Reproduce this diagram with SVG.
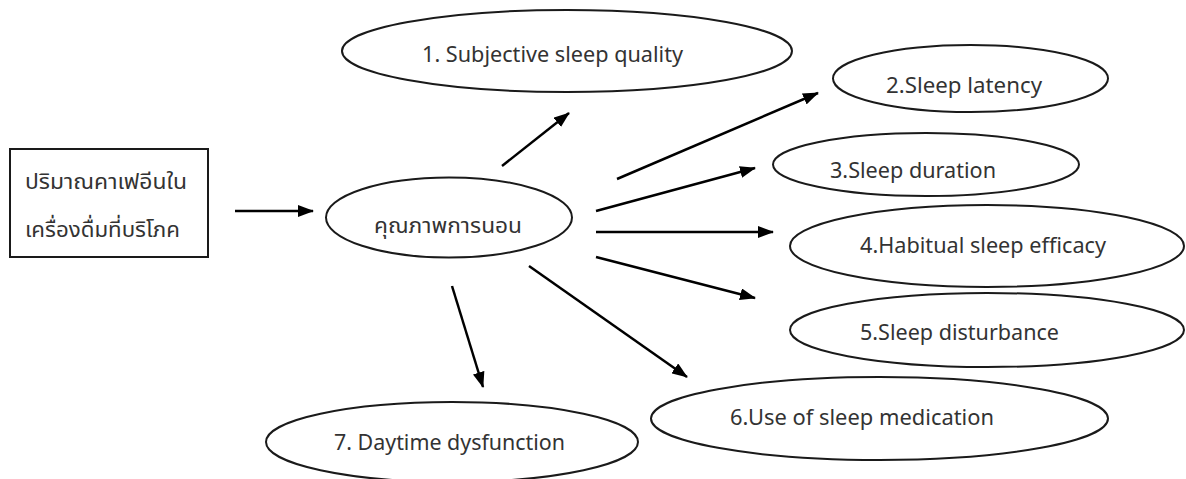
<svg xmlns="http://www.w3.org/2000/svg" width="1186" height="479" viewBox="0 0 1186 479">
<style>
.n{fill:#fff;stroke:#1a1a1a;stroke-width:2}
.t{font-family:"Noto Sans","DejaVu Sans",sans-serif;font-size:22px;fill:#333}
.th{font-family:"Noto Sans Thai","Noto Sans","DejaVu Sans",sans-serif;font-size:22px;fill:#333}
.c{stroke:#000;stroke-width:2.5;fill:none;marker-end:url(#ah)}
</style>
<defs>
<marker id="ah" markerUnits="userSpaceOnUse" markerWidth="16" markerHeight="12" refX="15" refY="6" orient="auto">
<path d="M0,0 L16,6 L0,12 z" fill="#000"/>
</marker>
</defs>
<rect width="1186" height="479" fill="#fff"/>
<g id="connectors">
<line class="c" x1="235" y1="211" x2="313" y2="211"/>
<line class="c" x1="502" y1="166" x2="569" y2="113"/>
<line class="c" x1="617" y1="179" x2="818" y2="93"/>
<line class="c" x1="596" y1="211" x2="755" y2="168"/>
<line class="c" x1="596" y1="232" x2="773" y2="232"/>
<line class="c" x1="596" y1="257" x2="755" y2="298"/>
<line class="c" x1="529" y1="266" x2="687" y2="377"/>
<line class="c" x1="452" y1="286" x2="483" y2="387"/>
</g>
<g id="caffeine">
<rect class="n" x="10" y="149" width="198" height="108"/>
<text class="th" x="25" y="189" textLength="162" lengthAdjust="spacingAndGlyphs">ปริมาณคาเฟอีนใน</text>
<text class="th" x="25" y="237" textLength="155" lengthAdjust="spacingAndGlyphs">เครื่องดื่มที่บริโภค</text>
</g>
<g id="sleep-quality">
<ellipse class="n" cx="449" cy="217.5" rx="123" ry="40"/>
<text class="th" x="448" y="233" text-anchor="middle" textLength="148" lengthAdjust="spacingAndGlyphs">คุณภาพการนอน</text>
</g>
<g id="n1">
<ellipse class="n" cx="567" cy="51" rx="225" ry="41"/>
<text class="t" x="552.5" y="62" text-anchor="middle" textLength="261" lengthAdjust="spacingAndGlyphs">1. Subjective sleep quality</text>
</g>
<g id="n2">
<ellipse class="n" cx="970.5" cy="78.5" rx="137.5" ry="33.5"/>
<text class="t" x="964" y="93" text-anchor="middle" textLength="156" lengthAdjust="spacingAndGlyphs">2.Sleep latency</text>
</g>
<g id="n3">
<ellipse class="n" cx="926" cy="164.5" rx="153" ry="31.5"/>
<text class="t" x="913" y="178" text-anchor="middle" textLength="166" lengthAdjust="spacingAndGlyphs">3.Sleep duration</text>
</g>
<g id="n4">
<ellipse class="n" cx="987" cy="246" rx="197" ry="41"/>
<text class="t" x="983" y="253" text-anchor="middle" textLength="246" lengthAdjust="spacingAndGlyphs">4.Habitual sleep efficacy</text>
</g>
<g id="n5">
<ellipse class="n" cx="987" cy="330" rx="197" ry="37"/>
<text class="t" x="959.5" y="340" text-anchor="middle" textLength="199" lengthAdjust="spacingAndGlyphs">5.Sleep disturbance</text>
</g>
<g id="n6">
<ellipse class="n" cx="879.5" cy="418.5" rx="228.5" ry="41.5"/>
<text class="t" x="862" y="425" text-anchor="middle" textLength="264" lengthAdjust="spacingAndGlyphs">6.Use of sleep medication</text>
</g>
<g id="n7">
<ellipse class="n" cx="452" cy="442" rx="186" ry="40"/>
<text class="t" x="449.5" y="450" text-anchor="middle" textLength="231" lengthAdjust="spacingAndGlyphs">7. Daytime dysfunction</text>
</g>
</svg>
